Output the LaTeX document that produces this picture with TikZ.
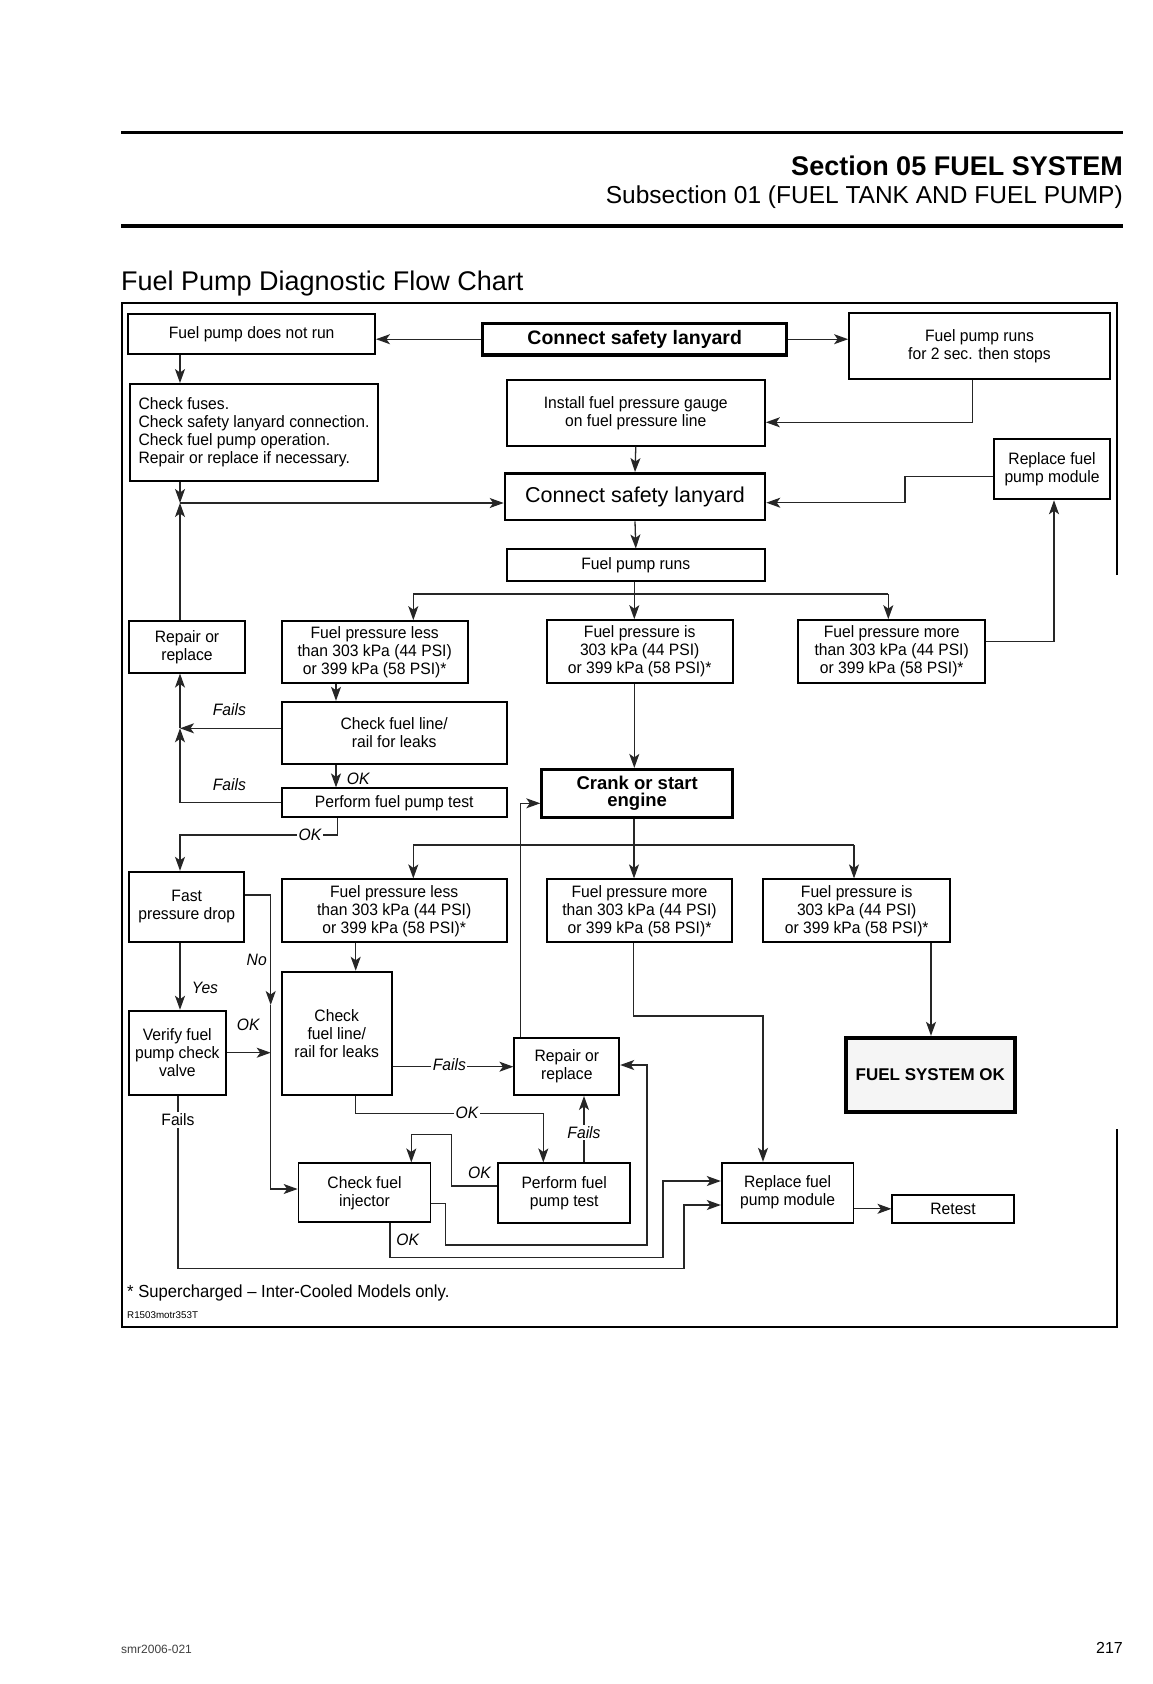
\documentclass[tikz,border=0pt]{standalone}
\usepackage{fontspec}
\setmainfont{Liberation Sans}
\newfontfamily\cond{Liberation Sans}[FakeStretch=0.95]
\usetikzlibrary{arrows.meta}
\newcommand\myBody{\cond\fontsize{16.5}{18}\selectfont}
\newcommand\myLab{\cond\itshape\fontsize{16.5}{18}\selectfont}
\begin{document}
\begin{tikzpicture}[x=1pt,y=-1pt,
  bx/.style={draw=black, line width=1.8pt, inner sep=0pt, align=center, font=\myBody},
  conn/.style={line width=1.3pt, draw=black!85},
  arr/.style={conn, -{Stealth[length=14pt,width=10pt,inset=3.5pt]}},
  lab/.style={font=\myLab, inner sep=1.5pt},
  labw/.style={lab, fill=white},
  hdr/.style={inner sep=0pt}]
\useasboundingbox (0,0) rectangle (1152,1684);
\fill[white] (0,0) rectangle (1152,1684);

% header
\draw[line width=3.5pt] (121,132.3) -- (1123,132.3);
\draw[line width=3.5pt] (121,226) -- (1123,226);
\node[hdr, anchor=base east, font=\bfseries\fontsize{27}{30}\selectfont] (sec) at (1123,175) {Section 05 FUEL SYSTEM};
\node[hdr, anchor=base east, font=\fontsize{24.5}{28}\selectfont] (subsec) at (1123,203.5) {Subsection 01 (FUEL TANK AND FUEL PUMP)};
\node[hdr, anchor=base west, font=\fontsize{27}{30}\selectfont] (title) at (121,290.5) {Fuel Pump Diagnostic Flow Chart};

% frame
\draw[line width=1.8pt] (1117,575) -- (1117,303.3) -- (121.7,303.3) -- (121.7,1326.7) -- (1117,1326.7) -- (1117,1129.3);

% boxes
\node[bx, minimum width=246.7pt, minimum height=40pt] (A) at (251.7,334) {Fuel pump does not run};
\node[bx, line width=3.3pt, minimum width=304pt, minimum height=31.7pt, font=\bfseries\fontsize{19.5}{20}\selectfont] (CSL) at (634.7,339.2) {Connect safety lanyard};
\node[bx, minimum width=261pt, minimum height=66pt] (RUN2) at (979.5,346.3) {Fuel pump runs\\for 2 sec. then stops};
\node[bx, align=left, minimum width=248pt, minimum height=96.7pt] (CHK) at (254,432.3) {Check fuses.\\Check safety lanyard connection.\\Check fuel pump operation.\\Repair or replace if necessary.};
\node[bx, minimum width=258.3pt, minimum height=65.7pt] (INST) at (635.8,412.8) {Install fuel pressure gauge\\on fuel pressure line};
\node[bx, line width=2.6pt, minimum width=260pt, minimum height=46.7pt, font=\fontsize{21.5}{22}\selectfont] (CSL2) at (635,496.7) {Connect safety lanyard};
\node[bx, minimum width=116pt, minimum height=60.3pt] (RFPM1) at (1052,469.2) {Replace fuel\\pump module};
\node[bx, minimum width=258.3pt, minimum height=31.7pt] (FPR) at (635.8,565.2) {Fuel pump runs};
\node[bx, minimum width=116pt, minimum height=51.7pt] (RR1) at (187,646.8) {Repair or\\replace};
\node[bx, minimum width=186pt, minimum height=62.3pt] (FPL1) at (374.7,652.2) {Fuel pressure less\\than 303 kPa (44 PSI)\\or 399 kPa (58 PSI)*};
\node[bx, minimum width=186pt, minimum height=63.3pt] (FPI1) at (639.7,651.7) {Fuel pressure is\\303 kPa (44 PSI)\\or 399 kPa (58 PSI)*};
\node[bx, minimum width=186.7pt, minimum height=63.3pt] (FPM1) at (891.7,651.7) {Fuel pressure more\\than 303 kPa (44 PSI)\\or 399 kPa (58 PSI)*};
\node[bx, minimum width=225pt, minimum height=62.6pt] (CFL1) at (394.2,733) {Check fuel line/\\rail for leaks};
\node[bx, minimum width=225pt, minimum height=29pt] (PFT1) at (394.2,802.8) {Perform fuel pump test};
\node[bx, line width=2.8pt, minimum width=191pt, minimum height=48pt, font=\bfseries\fontsize{18.5}{17.5}\selectfont] (CRANK) at (637.2,793.3) {Crank or start\\engine};
\node[bx, minimum width=115.3pt, minimum height=70pt] (FAST) at (186.7,906.7) {Fast\\pressure drop};
\node[bx, minimum width=225pt, minimum height=63pt] (FPL2) at (394.2,910.8) {Fuel pressure less\\than 303 kPa (44 PSI)\\or 399 kPa (58 PSI)*};
\node[bx, minimum width=185.6pt, minimum height=63pt] (FPM2) at (639.5,910.8) {Fuel pressure more\\than 303 kPa (44 PSI)\\or 399 kPa (58 PSI)*};
\node[bx, minimum width=186.7pt, minimum height=63pt] (FPI2) at (856.7,910.8) {Fuel pressure is\\303 kPa (44 PSI)\\or 399 kPa (58 PSI)*};
\node[bx, minimum width=96.7pt, minimum height=84.3pt] (VER) at (177.3,1052.8) {Verify fuel\\pump check\\valve};
\node[bx, minimum width=110pt, minimum height=123.3pt] (CFL2) at (336.7,1033.3) {Check\\fuel line/\\rail for leaks};
\node[bx, minimum width=105pt, minimum height=56.7pt] (RR2) at (566.8,1066.7) {Repair or\\replace};
\node[bx, line width=4pt, fill=black!4, minimum width=169.3pt, minimum height=74.4pt, font=\bfseries\fontsize{17}{18}\selectfont] (FSOK) at (930.3,1075) {FUEL SYSTEM OK};
\node[bx, minimum width=131.9pt, minimum height=59pt] (CFI) at (364.5,1192.8) {Check fuel\\injector};
\node[bx, minimum width=131.9pt, minimum height=59.4pt] (PFT2) at (564.2,1193) {Perform fuel\\pump test};
\node[bx, minimum width=131.8pt, minimum height=60pt] (RFPM2) at (787.6,1192.7) {Replace fuel\\pump module};
\node[bx, minimum width=121.3pt, minimum height=27.7pt] (RET) at (953,1208.8) {Retest};

% helper coordinates
\coordinate (j1) at (180,503);
\coordinate (k1) at (972.3,422.3);
\coordinate (k2) at (905,476.7);
\coordinate (k3) at (905,502.7);
\coordinate (sL) at (413.3,594);
\coordinate (sM) at (634.3,594);
\coordinate (sR) at (888.3,594);
\coordinate (k4) at (1054,641.7);
\coordinate (f1) at (180,728.3);
\coordinate (v336) at (336,700);
\coordinate (o1) at (337.3,835);
\coordinate (s2L) at (413.3,845);
\coordinate (s2M) at (634,845);
\coordinate (s2R) at (854,845);
\coordinate (k6) at (520.7,803.3);
\coordinate (w1) at (931,1000);
\coordinate (k7) at (633.3,1016);
\coordinate (k8) at (763,1016);
\coordinate (v356) at (355.7,1000);
\coordinate (n1) at (270.7,895);
\coordinate (n2) at (270.7,1005);
\coordinate (n3) at (270.7,1189);
\coordinate (ok2) at (270.7,1052.7);
\coordinate (q1) at (355.7,1113.3);
\coordinate (q2) at (543.3,1113.3);
\coordinate (q3) at (584,1140);
\coordinate (p1) at (451.8,1186);
\coordinate (p2) at (451.8,1134.3);
\coordinate (p3) at (411.3,1134.3);
\coordinate (r1) at (445.7,1203.3);
\coordinate (r2) at (445.7,1245);
\coordinate (r3) at (647,1245);
\coordinate (r4) at (647,1065);
\coordinate (t1) at (390,1257.7);
\coordinate (t2) at (663,1257.7);
\coordinate (t3) at (663,1181);
\coordinate (u1) at (178,1268.3);
\coordinate (u2) at (684,1268.3);
\coordinate (u3) at (684,1205);

% connectors
\draw[arr] (CSL.west) -- (CSL.west -| A.east);
\draw[arr] (CSL.east) -- (CSL.east -| RUN2.west);
\draw[arr] (A.south -| j1) -- (CHK.north -| j1);
\draw[arr] (CHK.south -| j1) -- (j1);
\draw[arr] (RR1.north -| j1) -- (j1);
\draw[arr] (j1) -- (j1 -| CSL2.west);
\draw[arr] (RUN2.south -| k1) -- (k1) -- (k1 -| INST.east);
\draw[arr] (INST.south) -- (CSL2.north);
\draw[arr] (RFPM1.west |- k2) -- (k2) -- (k3) -- (k3 -| CSL2.east);
\draw[arr] (CSL2.south) -- (FPR.north);
\draw[conn] (FPR.south -| sM) -- (sM);
\draw[conn] (sL) -- (sR);
\draw[arr] (sM) -- (FPI1.north -| sM);
\draw[arr] (sL) -- (FPL1.north -| sL);
\draw[arr] (sR) -- (FPM1.north -| sR);
\draw[arr] (FPM1.east |- k4) -- (k4) -- (k4 |- RFPM1.south);
\draw[arr] (FPI1.south -| sM) -- (CRANK.north -| sM);
\draw[arr] (FPL1.south -| v336) -- (CFL1.north -| v336);
\draw[arr] (CFL1.west |- f1) -- (f1);
\draw[arr] (PFT1.west) -| (f1);
\draw[arr] (f1) -- (RR1.south -| f1);
\draw[arr] (CFL1.south -| v336) -- (PFT1.north -| v336);
\draw[arr] (PFT1.south -| o1) -- (o1) -| (FAST.north -| f1);
\draw[arr] (CRANK.south -| s2M) -- (FPM2.north -| s2M);
\draw[conn] (s2L) -- (s2R);
\draw[arr] (s2L) -- (FPL2.north -| s2L);
\draw[arr] (s2R) -- (FPI2.north -| s2R);
\draw[arr] (RR2.north -| k6) -- (k6) -- (k6 -| CRANK.west);
\draw[arr] (FPI2.south -| w1) -- (FSOK.north -| w1);
\draw[arr] (FPM2.south -| k7) -- (k7) -- (k8) -- (k8 |- RFPM2.north);
\draw[arr] (FPL2.south -| v356) -- (CFL2.north -| v356);
\draw[arr] (FAST.south -| f1) -- (VER.north -| f1);
\draw[arr] (FAST.east |- n1) -- (n1) -- (n2);
\draw[arr] (n2) -- (n3) -- (n3 -| CFI.west);
\draw[arr] (VER.east |- ok2) -- (ok2);
\draw[arr] (CFL2.east |- RR2.west) -- (RR2.west);
\draw[arr] (CFL2.south -| q1) -- (q1) -- (q2) -- (q2 |- PFT2.north);
\draw[arr] (PFT2.north -| q3) -- (RR2.south -| q3);
\draw[arr] (PFT2.west |- p1) -- (p1) -- (p2) -- (p3) -- (p3 |- CFI.north);
\draw[arr] (CFI.east |- r1) -- (r1) -- (r2) -- (r3) -- (r4) -- (r4 -| RR2.east);
\draw[arr] (CFI.south -| t1) -- (t1) -- (t2) -- (t3) -- (t3 -| RFPM2.west);
\draw[arr] (VER.south -| u1) -- (u1) -- (u2) -- (u3) -- (u3 -| RFPM2.west);
\draw[arr] (RFPM2.east |- RET.west) -- (RET.west);

% labels
\node[lab] (l1) at (229.3,710) {Fails};
\node[lab] (l2) at (229.3,784.3) {Fails};
\node[lab] (l3) at (358.3,779) {OK};
\node[labw] (l4) at (310,835) {OK};
\node[lab] (l5) at (256.7,960) {No};
\node[lab] (l6) at (205,988.3) {Yes};
\node[lab] (l7) at (248.3,1025) {OK};
\node[labw] (l8) at (449.3,1065) {Fails};
\node[labw] (l9) at (467,1113.3) {OK};
\node[labw] (l10) at (584,1132.7) {Fails};
\node[lab] (l11) at (479.4,1172.7) {OK};
\node[lab] (l12) at (407.8,1240) {OK};
\node[labw, font=\cond\fontsize{16.5}{18}\selectfont] (l13) at (178,1120) {Fails};

% footnotes
\node[hdr, anchor=west, font=\cond\fontsize{17.5}{18}\selectfont] (fn) at (127,1292.7) {* Supercharged – Inter-Cooled Models only.};
\node[hdr, anchor=west, font=\fontsize{9.8}{10}\selectfont] (code) at (127,1315) {R1503motr353T};
\node[hdr, anchor=base west, font=\fontsize{12}{12}\selectfont, text=black!75] (smr) at (121,1653) {smr2006-021};
\node[hdr, anchor=base east, font=\fontsize{16}{16}\selectfont] (pg) at (1123,1653) {217};
\end{tikzpicture}
\end{document}
